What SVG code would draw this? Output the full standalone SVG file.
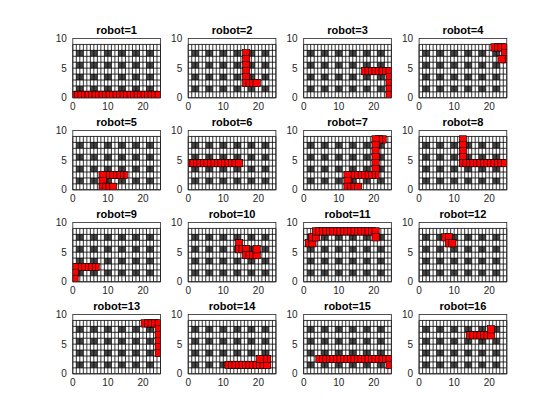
<svg xmlns="http://www.w3.org/2000/svg" xmlns:xlink="http://www.w3.org/1999/xlink" width="560" height="420" viewBox="0 0 560 420">
<style>
text{font-family:"Liberation Sans",Arial,sans-serif;fill:#262626}
.t{font-size:11px;font-weight:bold;fill:#000;text-anchor:middle}
.yl{font-size:10px;text-anchor:end}
.xl{font-size:10px;text-anchor:middle}
.p{fill:none;stroke:none;marker-start:url(#mk);marker-mid:url(#mk);marker-end:url(#mk)}
</style>
<defs>
<marker id="mk" markerUnits="userSpaceOnUse" markerWidth="8" markerHeight="8" refX="4" refY="4" viewBox="0 0 8 8" overflow="visible">
<rect x="0.35" y="0.35" width="7.3" height="7.3" fill="#f00" stroke="#000" stroke-width="0.6"/>
</marker>
<clipPath id="clip"><rect width="87.7" height="59.3"/></clipPath>
<g id="base">
<rect width="87.7" height="59.3" fill="#fff"/>
<path fill="#454545" d="M3.508 11.86h7.016v5.93h-7.016zm14.032 0h7.016v5.93h-7.016zm14.032 0h7.016v5.93h-7.016zm14.032 0h7.016v5.93h-7.016zm14.032 0h7.016v5.930h-7.016zm14.032 0h7.016v5.93h-7.016zM3.508 23.72h7.016v5.93h-7.016zm14.032 0h7.016v5.93h-7.016zm14.032 0h7.016v5.93h-7.016zm14.032 0h7.016v5.93h-7.016zm14.032 0h7.016v5.93h-7.016zm14.032 0h7.016v5.93h-7.016zM3.508 35.58h7.016v5.93h-7.016zm14.032 0h7.016v5.93h-7.016zm14.032 0h7.016v5.93h-7.016zm14.032 0h7.016v5.93h-7.016zm14.032 0h7.016v5.93h-7.016zm14.032 0h7.016v5.93h-7.016zM3.508 47.44h7.016v5.93h-7.016zm14.032 0h7.016v5.93h-7.016zm14.032 0h7.016v5.93h-7.016zm14.032 0h7.016v5.93h-7.016zm14.032 0h7.016v5.93h-7.016zm14.032 0h7.016v5.93h-7.016z"/>
<path fill="none" stroke="#000" stroke-width="0.8" d="M0 5.93v53.37m3.508-53.37v53.37m3.508-53.37v53.37m3.508-53.37v53.37m3.508-53.37v53.37m3.508-53.37v53.37m3.508-53.37v53.37m3.508-53.37v53.37m3.508-53.37v53.37m3.508-53.37v53.37m3.508-53.37v53.37m3.508-53.37v53.37m3.508-53.37v53.37m3.508-53.37v53.37m3.508-53.37v53.37m3.508-53.37v53.37m3.508-53.37v53.37m3.508-53.37v53.37m3.508-53.37v53.37m3.508-53.37v53.37m3.508-53.37v53.37m3.508-53.37v53.37m3.508-53.37v53.37m3.508-53.37v53.37m3.508-53.37v53.37m3.508-53.37v53.37M0 5.93h87.7m-87.7 5.93h87.7m-87.7 5.93h87.7m-87.7 5.93h87.7m-87.7 5.93h87.7m-87.7 5.93h87.7m-87.7 5.93h87.7m-87.7 5.93h87.7m-87.7 5.93h87.7m-87.7 5.93h87.7"/>
</g>
<rect id="box" width="87.7" height="59.3" fill="none" stroke="#262626" stroke-width="0.8"/>
</defs>

<g id="robot1" transform="translate(72.8,38.5)">
<use xlink:href="#base"/>
<path class="p" clip-path="url(#clip)" d="M1.754 56.335h3.508h3.508h3.508h3.508h3.508h3.508h3.508h3.508h3.508h3.508h3.508h3.508h3.508h3.508h3.508h3.508h3.508h3.508h3.508h3.508h3.508h3.508h3.508h3.508"/>
<use xlink:href="#box"/>
<text class="t" x="43.85" y="-4.5">robot=1</text>
<text class="yl" x="-6" y="3.6">10</text><text class="yl" x="-6" y="33.2">5</text><text class="yl" x="-6" y="62.9">0</text>
<text class="xl" x="0" y="71.5">0</text><text class="xl" x="35.08" y="71.5">10</text><text class="xl" x="70.16" y="71.5">20</text>
</g>

<g id="robot2" transform="translate(188.23,38.5)">
<use xlink:href="#base"/>
<path class="p" clip-path="url(#clip)" d="M57.882 14.825v5.93v5.93v5.93v5.93v5.93h3.508h3.508h3.508"/>
<use xlink:href="#box"/>
<text class="t" x="43.85" y="-4.5">robot=2</text>
<text class="yl" x="-6" y="3.6">10</text><text class="yl" x="-6" y="33.2">5</text><text class="yl" x="-6" y="62.9">0</text>
<text class="xl" x="0" y="71.5">0</text><text class="xl" x="35.08" y="71.5">10</text><text class="xl" x="70.16" y="71.5">20</text>
</g>

<g id="robot3" transform="translate(303.66,38.5)">
<use xlink:href="#base"/>
<path class="p" clip-path="url(#clip)" d="M61.39 32.615h3.508h3.508h3.508h3.508h3.508h3.508h3.508v5.93v5.93v5.93v5.93"/>
<use xlink:href="#box"/>
<text class="t" x="43.85" y="-4.5">robot=3</text>
<text class="yl" x="-6" y="3.6">10</text><text class="yl" x="-6" y="33.2">5</text><text class="yl" x="-6" y="62.9">0</text>
<text class="xl" x="0" y="71.5">0</text><text class="xl" x="35.08" y="71.5">10</text><text class="xl" x="70.16" y="71.5">20</text>
</g>

<g id="robot4" transform="translate(419.09,38.5)">
<use xlink:href="#base"/>
<path class="p" clip-path="url(#clip)" d="M75.422 8.895h3.508h3.508h3.508v5.93v5.93h-3.508"/>
<use xlink:href="#box"/>
<text class="t" x="43.85" y="-4.5">robot=4</text>
<text class="yl" x="-6" y="3.6">10</text><text class="yl" x="-6" y="33.2">5</text><text class="yl" x="-6" y="62.9">0</text>
<text class="xl" x="0" y="71.5">0</text><text class="xl" x="35.08" y="71.5">10</text><text class="xl" x="70.16" y="71.5">20</text>
</g>

<g id="robot5" transform="translate(72.8,130.5)">
<use xlink:href="#base"/>
<path class="p" clip-path="url(#clip)" d="M50.866 44.475h-3.508h-3.508h-3.508h-3.508h-3.508h-3.508v5.93v5.93h3.508h3.508h3.508"/>
<use xlink:href="#box"/>
<text class="t" x="43.85" y="-4.5">robot=5</text>
<text class="yl" x="-6" y="3.6">10</text><text class="yl" x="-6" y="33.2">5</text><text class="yl" x="-6" y="62.9">0</text>
<text class="xl" x="0" y="71.5">0</text><text class="xl" x="35.08" y="71.5">10</text><text class="xl" x="70.16" y="71.5">20</text>
</g>

<g id="robot6" transform="translate(188.23,130.5)">
<use xlink:href="#base"/>
<path class="p" clip-path="url(#clip)" d="M1.754 32.615h3.508h3.508h3.508h3.508h3.508h3.508h3.508h3.508h3.508h3.508h3.508h3.508h3.508h3.508"/>
<use xlink:href="#box"/>
<text class="t" x="43.85" y="-4.5">robot=6</text>
<text class="yl" x="-6" y="3.6">10</text><text class="yl" x="-6" y="33.2">5</text><text class="yl" x="-6" y="62.9">0</text>
<text class="xl" x="0" y="71.5">0</text><text class="xl" x="35.08" y="71.5">10</text><text class="xl" x="70.16" y="71.5">20</text>
</g>

<g id="robot7" transform="translate(303.66,130.5)">
<use xlink:href="#base"/>
<path class="p" clip-path="url(#clip)" d="M78.93 8.895h-3.508h-3.508v5.93v5.93v5.93v5.93v5.93v5.93h-3.508h-3.508h-3.508h-3.508h-3.508h-3.508h-3.508h-3.508v5.93v5.93h3.508h3.508h3.508"/>
<use xlink:href="#box"/>
<text class="t" x="43.85" y="-4.5">robot=7</text>
<text class="yl" x="-6" y="3.6">10</text><text class="yl" x="-6" y="33.2">5</text><text class="yl" x="-6" y="62.9">0</text>
<text class="xl" x="0" y="71.5">0</text><text class="xl" x="35.08" y="71.5">10</text><text class="xl" x="70.16" y="71.5">20</text>
</g>

<g id="robot8" transform="translate(419.09,130.5)">
<use xlink:href="#base"/>
<path class="p" clip-path="url(#clip)" d="M43.85 8.895v5.93v5.93v5.93v5.93h3.508h3.508h3.508h3.508h3.508h3.508h3.508h3.508h3.508h3.508h3.508h3.508"/>
<use xlink:href="#box"/>
<text class="t" x="43.85" y="-4.5">robot=8</text>
<text class="yl" x="-6" y="3.6">10</text><text class="yl" x="-6" y="33.2">5</text><text class="yl" x="-6" y="62.9">0</text>
<text class="xl" x="0" y="71.5">0</text><text class="xl" x="35.08" y="71.5">10</text><text class="xl" x="70.16" y="71.5">20</text>
</g>

<g id="robot9" transform="translate(72.8,222.5)">
<use xlink:href="#base"/>
<path class="p" clip-path="url(#clip)" d="M22.802 44.475h-3.508h-3.508h-3.508h-3.508h-3.508h-3.508v5.93v5.93"/>
<use xlink:href="#box"/>
<text class="t" x="43.85" y="-4.5">robot=9</text>
<text class="yl" x="-6" y="3.6">10</text><text class="yl" x="-6" y="33.2">5</text><text class="yl" x="-6" y="62.9">0</text>
<text class="xl" x="0" y="71.5">0</text><text class="xl" x="35.08" y="71.5">10</text><text class="xl" x="70.16" y="71.5">20</text>
</g>

<g id="robot10" transform="translate(188.23,222.5)">
<use xlink:href="#base"/>
<path class="p" clip-path="url(#clip)" d="M50.866 20.755v5.93h3.508h3.508v5.93h3.508h3.508h3.508v-5.93"/>
<use xlink:href="#box"/>
<text class="t" x="43.85" y="-4.5">robot=10</text>
<text class="yl" x="-6" y="3.6">10</text><text class="yl" x="-6" y="33.2">5</text><text class="yl" x="-6" y="62.9">0</text>
<text class="xl" x="0" y="71.5">0</text><text class="xl" x="35.08" y="71.5">10</text><text class="xl" x="70.16" y="71.5">20</text>
</g>

<g id="robot11" transform="translate(303.66,222.5)">
<use xlink:href="#base"/>
<path class="p" clip-path="url(#clip)" d="M5.262 20.755h3.508v-5.93h3.508v-5.930h3.508h3.508h3.508h3.508h3.508h3.508h3.508h3.508h3.508h3.508h3.508h3.508h3.508h3.508h3.508h3.508h3.508v5.93"/>
<use xlink:href="#box"/>
<text class="t" x="43.85" y="-4.5">robot=11</text>
<text class="yl" x="-6" y="3.6">10</text><text class="yl" x="-6" y="33.2">5</text><text class="yl" x="-6" y="62.9">0</text>
<text class="xl" x="0" y="71.5">0</text><text class="xl" x="35.08" y="71.5">10</text><text class="xl" x="70.16" y="71.5">20</text>
</g>

<g id="robot12" transform="translate(419.09,222.5)">
<use xlink:href="#base"/>
<path class="p" clip-path="url(#clip)" d="M26.31 14.825h3.508v5.93h3.508"/>
<use xlink:href="#box"/>
<text class="t" x="43.85" y="-4.5">robot=12</text>
<text class="yl" x="-6" y="3.6">10</text><text class="yl" x="-6" y="33.2">5</text><text class="yl" x="-6" y="62.9">0</text>
<text class="xl" x="0" y="71.5">0</text><text class="xl" x="35.08" y="71.5">10</text><text class="xl" x="70.16" y="71.5">20</text>
</g>

<g id="robot13" transform="translate(72.8,314.5)">
<use xlink:href="#base"/>
<path class="p" clip-path="url(#clip)" d="M71.914 8.895h3.508h3.508h3.508h3.508v5.93v5.93v5.93v5.93v5.93"/>
<use xlink:href="#box"/>
<text class="t" x="43.85" y="-4.5">robot=13</text>
<text class="yl" x="-6" y="3.6">10</text><text class="yl" x="-6" y="33.2">5</text><text class="yl" x="-6" y="62.9">0</text>
<text class="xl" x="0" y="71.5">0</text><text class="xl" x="35.08" y="71.5">10</text><text class="xl" x="70.16" y="71.5">20</text>
</g>

<g id="robot14" transform="translate(188.23,314.5)">
<use xlink:href="#base"/>
<path class="p" clip-path="url(#clip)" d="M40.342 50.405h3.508h3.508h3.508h3.508h3.508h3.508h3.508h3.508h3.508h3.508h3.508v-5.93h-3.508h-3.508"/>
<use xlink:href="#box"/>
<text class="t" x="43.85" y="-4.5">robot=14</text>
<text class="yl" x="-6" y="3.6">10</text><text class="yl" x="-6" y="33.2">5</text><text class="yl" x="-6" y="62.9">0</text>
<text class="xl" x="0" y="71.5">0</text><text class="xl" x="35.08" y="71.5">10</text><text class="xl" x="70.16" y="71.5">20</text>
</g>

<g id="robot15" transform="translate(303.66,314.5)">
<use xlink:href="#base"/>
<path class="p" clip-path="url(#clip)" d="M15.786 44.475h3.508h3.508h3.508h3.508h3.508h3.508h3.508h3.508h3.508h3.508h3.508h3.508h3.508h3.508h3.508h3.508h3.508h3.508h3.508h3.508v5.93"/>
<use xlink:href="#box"/>
<text class="t" x="43.85" y="-4.5">robot=15</text>
<text class="yl" x="-6" y="3.6">10</text><text class="yl" x="-6" y="33.2">5</text><text class="yl" x="-6" y="62.9">0</text>
<text class="xl" x="0" y="71.5">0</text><text class="xl" x="35.08" y="71.5">10</text><text class="xl" x="70.16" y="71.5">20</text>
</g>

<g id="robot16" transform="translate(419.09,314.5)">
<use xlink:href="#base"/>
<path class="p" clip-path="url(#clip)" d="M50.866 20.755h3.508h3.508h3.508h3.508h3.508h3.508v-5.93"/>
<use xlink:href="#box"/>
<text class="t" x="43.85" y="-4.5">robot=16</text>
<text class="yl" x="-6" y="3.6">10</text><text class="yl" x="-6" y="33.2">5</text><text class="yl" x="-6" y="62.9">0</text>
<text class="xl" x="0" y="71.5">0</text><text class="xl" x="35.08" y="71.5">10</text><text class="xl" x="70.16" y="71.5">20</text>
</g>
</svg>
